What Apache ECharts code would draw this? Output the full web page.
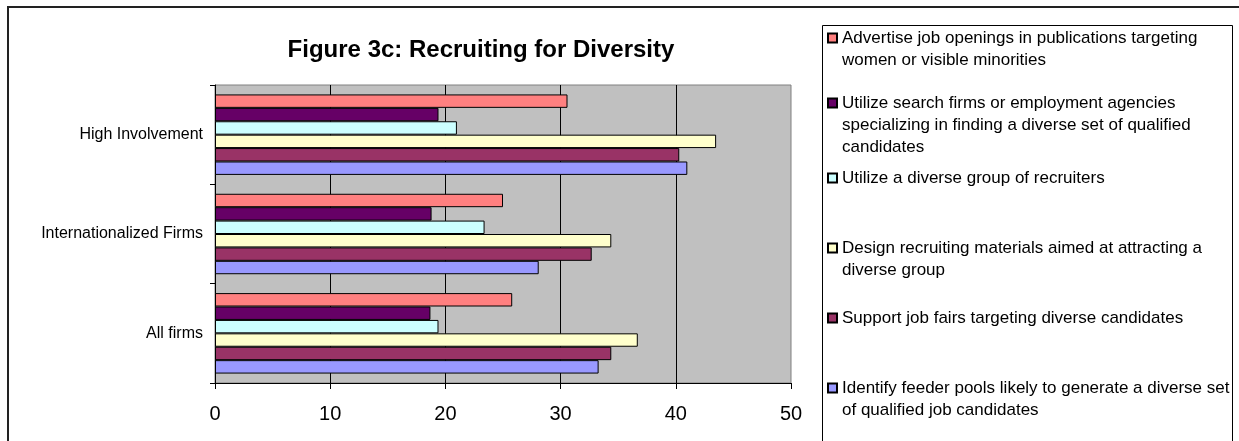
<!DOCTYPE html>
<html><head><meta charset="utf-8">
<script src="https://cdn.jsdelivr.net/npm/echarts@6/dist/echarts.min.js"></script>
<style>html,body{margin:0;padding:0;background:#fff}#c{width:1239px;height:441px}</style>
</head><body><div id="c"></div>
<script>
const categories = ['All firms', 'Internationalized Firms', 'High Involvement'];
const seriesNames = [
  'Advertise job openings in publications targeting women or visible minorities',
  'Utilize search firms or employment agencies specializing in finding a diverse set of qualified candidates',
  'Utilize a diverse group of recruiters',
  'Design recruiting materials aimed at attracting a diverse group',
  'Support job fairs targeting diverse candidates',
  'Identify feeder pools likely to generate a diverse set of qualified job candidates'
];
const legendLines = [
  ['Advertise job openings in publications targeting', 'women or visible minorities'],
  ['Utilize search firms or employment agencies', 'specializing in finding a diverse set of qualified', 'candidates'],
  ['Utilize a diverse group of recruiters'],
  ['Design recruiting materials aimed at attracting a', 'diverse group'],
  ['Support job fairs targeting diverse candidates'],
  ['Identify feeder pools likely to generate a diverse set', 'of qualified job candidates']
];
// values in category order: All firms, Internationalized Firms, High Involvement
const advertise   = [25.8, 25.0, 30.6];
const searchFirms = [18.7, 18.8, 19.4];
const recruiters  = [19.4, 23.4, 21.0];
const materials   = [36.7, 34.4, 43.5];
const jobFairs    = [34.4, 32.7, 40.3];
const feederPools = [33.3, 28.1, 41.0];
const xTicks = [0, 10, 20, 30, 40, 50];

const seriesData = [advertise, searchFirms, recruiters, materials, jobFairs, feederPools];
const colors = ['#FF8080', '#660066', '#CCFFFF', '#FFFFCC', '#993366', '#9999FF'];
const FONT = '"Liberation Sans", Arial, sans-serif';
const LH = 22;
const legendFirstLineY = [38, 103, 178, 248, 318, 388];

const chart = echarts.init(document.getElementById('c'), null, {renderer: 'canvas'});
const series = seriesData.map((d, i) => ({
  name: seriesNames[i],
  type: 'bar',
  data: d,
  barGap: '0%',
  barCategoryGap: '19%',
  itemStyle: {color: colors[i], borderColor: '#000', borderWidth: 1},
  emphasis: {disabled: true},
  animation: false
}));

// blank lines above the text keep the marker level with the first text line
const legends = legendLines.map((lines, i) => ({
  data: [{name: seriesNames[i]}],
  orient: 'vertical',
  left: 827,
  top: legendFirstLineY[i] - (2 * lines.length - 1) * LH / 2,
  padding: 0,
  itemWidth: 9,
  itemHeight: 9,
  icon: 'rect',
  selectedMode: false,
  formatter: () => '\n'.repeat(lines.length - 1) + lines.join('\n'),
  textStyle: {fontFamily: FONT, fontSize: 17, lineHeight: LH, color: '#000'}
}));

chart.setOption({
  animation: false,
  backgroundColor: '#fff',
  title: {
    text: 'Figure 3c: Recruiting for Diversity',
    left: 476, top: 33, textAlign: 'center',
    textStyle: {fontFamily: FONT, fontSize: 24, fontWeight: 'bold', color: '#000'}
  },
  legend: legends,
  grid: {left: 215, right: 1239 - 791, top: 85, bottom: 441 - 383, show: true,
    backgroundColor: '#C0C0C0', borderColor: '#808080', borderWidth: 1},
  xAxis: {
    type: 'value', min: xTicks[0], max: xTicks[xTicks.length - 1], interval: xTicks[1] - xTicks[0],
    axisLine: {show: true, lineStyle: {color: '#000', width: 1}},
    axisTick: {show: true, length: 6, lineStyle: {color: '#000'}},
    axisLabel: {fontFamily: FONT, fontSize: 20, color: '#000', margin: 21},
    splitLine: {show: true, showMinLine: false, showMaxLine: false, lineStyle: {color: '#000', width: 1}}
  },
  yAxis: {
    type: 'category', data: categories,
    axisLine: {show: true, lineStyle: {color: '#000', width: 1}},
    axisTick: {show: true, length: 5, lineStyle: {color: '#000'}},
    axisLabel: {fontFamily: FONT, fontSize: 16, color: '#000', margin: 12}
  },
  series: series,
  graphic: [
    {type: 'rect', shape: {x: 8, y: 7, width: 1260, height: 460}, style: {fill: 'none', stroke: '#222', lineWidth: 2}, silent: true, z: -10},
    {type: 'rect', shape: {x: 822.5, y: 25.5, width: 410, height: 460}, style: {fill: 'none', stroke: '#000', lineWidth: 1}, silent: true, z: -10}
  ]
});
</script></body></html>
